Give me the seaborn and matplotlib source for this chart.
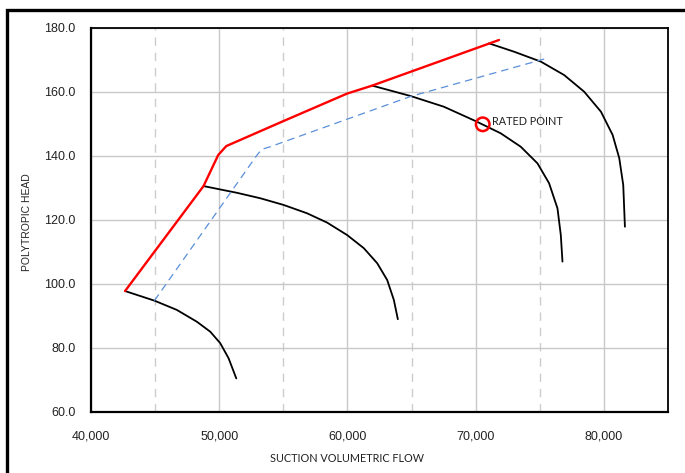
import matplotlib
matplotlib.use('Agg')
import matplotlib.pyplot as plt
from matplotlib.patches import Rectangle
from matplotlib.ticker import MultipleLocator, FuncFormatter
import seaborn as sns

# Speed lines (flow, head)
speed1_flow = [42656, 44945, 46695, 48260, 49300, 50080, 50730, 51330]
speed1_head = [97.8, 94.8, 91.9, 88.2, 85.1, 81.5, 76.8, 70.5]

speed2_flow = [48776, 51380, 53200, 55025, 56850, 58410, 59975, 61275, 62320, 63100, 63620, 63930]
speed2_head = [130.6, 128.5, 126.8, 124.7, 122.1, 119.2, 115.3, 111.2, 106.5, 101.25, 95.0, 89.0]

speed3_flow = [61930, 64920, 67520, 70000, 71950, 73515, 74820, 75725, 76380, 76640, 76770]
speed3_head = [162.0, 158.75, 155.4, 150.9, 147.1, 142.9, 137.7, 131.5, 123.65, 115.3, 107.0]

speed4_flow = [71040, 72990, 75080, 76900, 78460, 79770, 80680, 81200, 81510, 81640]
speed4_head = [175.2, 172.6, 169.5, 165.3, 160.1, 153.85, 146.6, 139.3, 130.9, 117.9]

# Surge line (red) and control line (blue dashed)
surge_flow = [42656, 48776, 49920, 50550, 54770, 59970, 61930, 71820]
surge_head = [97.8, 130.6, 140.3, 143.1, 150.5, 159.5, 162.0, 176.25]

control_flow = [44945, 52950, 53330, 53980, 61016, 64920, 75340]
control_head = [94.8, 140.3, 142.1, 142.9, 153.0, 158.6, 170.3]

rated_flow = [70550]
rated_head = [149.9]

sns.set_style('white')
plt.rcParams['font.family'] = ['Liberation Sans', 'DejaVu Sans']

fig = plt.figure(figsize=(6.85, 4.73), dpi=100)
ax = fig.add_axes([91 / 685, 1 - 412 / 473, 577 / 685, 384 / 473])

# Grid: solid at labelled ticks, dashed at the 5,000 in-between ticks
ax.xaxis.set_major_locator(MultipleLocator(10000))
ax.xaxis.set_minor_locator(MultipleLocator(5000))
ax.yaxis.set_major_locator(MultipleLocator(20))
ax.grid(which='major', axis='both', color='#c8c8c8', linewidth=1.0)
ax.grid(which='minor', axis='x', color='#cccccc', linewidth=1.0, linestyle=(0, (6, 5)))
ax.set_axisbelow(True)

for fl, hd in [(speed1_flow, speed1_head), (speed2_flow, speed2_head),
               (speed3_flow, speed3_head), (speed4_flow, speed4_head)]:
    sns.lineplot(x=fl, y=hd, ax=ax, sort=False, estimator=None,
                 color='black', linewidth=1.3)

sns.lineplot(x=control_flow, y=control_head, ax=ax, sort=False, estimator=None,
             color='#5b8fd9', linewidth=0.9, linestyle=(0, (6, 4)))
sns.lineplot(x=surge_flow, y=surge_head, ax=ax, sort=False, estimator=None,
             color='#ff0000', linewidth=1.7)

sns.scatterplot(x=rated_flow, y=rated_head, ax=ax, s=95, facecolor='none',
                edgecolor='#ff0000', linewidth=1.8, zorder=5)
ax.annotate('RATED POINT', (rated_flow[0], rated_head[0]), xytext=(7, 2),
            textcoords='offset points', ha='left', va='center',
            fontsize=7.8, family=['Lato', 'DejaVu Sans'], color='#222222')

ax.set_xlim(40000, 85000)
ax.set_ylim(60, 180)
ax.xaxis.set_major_formatter(FuncFormatter(lambda v, p: f'{int(v):,}'))
ax.yaxis.set_major_formatter(FuncFormatter(lambda v, p: f'{v:.1f}'))

ax.tick_params(axis='both', which='both', direction='out', length=9, width=1.3,
               color='black', labelsize=9, labelcolor='#222222')
ax.tick_params(axis='x', which='major', pad=4)
ax.tick_params(axis='y', which='major', pad=2)
ax.tick_params(axis='y', which='minor', length=0)

for side in ['left', 'bottom']:
    ax.spines[side].set_linewidth(1.6)
for side in ['top', 'right']:
    ax.spines[side].set_linewidth(1.3)
for s in ax.spines.values():
    s.set_color('black')
    s.set_visible(True)

ax.set_xlabel('SUCTION VOLUMETRIC FLOW', fontsize=7.8, family=['Lato', 'DejaVu Sans'],
              color='#222222')
ax.xaxis.set_label_coords(0.444, -0.107)
ax.set_ylabel('POLYTROPIC HEAD', fontsize=7.5, color='#222222')
ax.yaxis.set_label_coords(-0.103, 0.495)

# Outer frame around the figure (cropped at right and bottom)
fig.patches.append(Rectangle((7 / 685, -0.2), 1.2, 1.2 - 10 / 473, transform=fig.transFigure,
                             fill=False, edgecolor='black', linewidth=2.4, clip_on=False))

fig.savefig('out.png', dpi=100)
